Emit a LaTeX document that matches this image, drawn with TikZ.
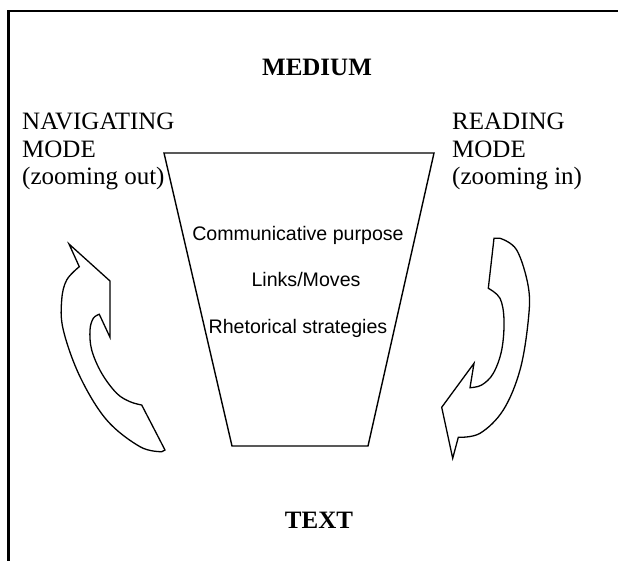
\documentclass[tikz,border=0pt]{standalone}
\usepackage{fontspec}
\setmainfont{Liberation Serif}
\setsansfont{Liberation Sans}
\begin{document}
\begin{tikzpicture}[x=1pt,y=-1pt,
  label/.style={inner sep=0pt,font=\fontsize{25}{27.5}\selectfont},
  headlabel/.style={label,font=\fontsize{25}{27.5}\selectfont\bfseries},
  layer/.style={inner sep=0pt,font=\sffamily\fontsize{19.6}{22}\selectfont},
  funnel/.style={draw=black,line width=1.4pt,line join=miter},
  turn/.style={draw=black,line width=1.3pt,line join=miter,fill=white},
  frame/.style={draw=black,line width=2.2pt}]
\useasboundingbox (0,0) rectangle (618,561);

% open frame: top and left edges
\coordinate (fc) at (8.5,11);
\draw[frame] (618,11) -- (fc) -- (8.5,561);

% headings
\node[headlabel,anchor=base] (medium) at (317,76) {MEDIUM};
\node[headlabel,anchor=base] (text) at (319,528) {TEXT};

% the two reading modes (base anchor sits on the last line)
\node[label,anchor=base west,align=left] (nav) at (22,185)
  {NAVIGATING\\MODE\\(zooming out)};
\node[label,anchor=base west,align=left] (read) at (452,185)
  {READING\\MODE\\(zooming in)};

% funnel
\coordinate (tl) at (164,153);
\coordinate (tr) at (434,153);
\coordinate (br) at (368,446);
\coordinate (bl) at (232,446);
\draw[funnel] (tl) -- (tr) -- (br) -- (bl) -- cycle;

\node[layer,anchor=base] (purpose) at (298,241) {Communicative purpose};
\node[layer,anchor=base] (moves) at (306,287) {Links/Moves};
\node[layer,anchor=base] (strat) at (298,333) {Rhetorical strategies};

% left curved arrow, pointing up
\draw[turn] (69,244) -- (79.3,266.7)
  -- plot[smooth,tension=0.6] coordinates {(79.3,266.7) (66.7,280) (61.7,300) (63.3,330) (80,376.7) (106.7,420) (140,446.7) (161.7,451.7)}
  -- (165,450) -- (141.7,405)
  -- plot[smooth,tension=0.6] coordinates {(141.7,405) (130,401.7) (116.7,393.3) (101.7,373.3) (91.7,350) (90,330) (93.3,318.3) (99.3,314.3)}
  -- (110,337.3) -- (110,281) -- cycle;

% right curved arrow, pointing down
\draw[turn] (494,238.3) -- (500,238.3)
  -- plot[smooth,tension=0.6] coordinates {(500,238.3) (516.7,250) (528.3,286.7) (528.3,320) (520,370) (503.3,410) (480,433.3) (458.3,437.3)}
  -- (452.7,458.3) -- (441.7,407.3) -- (474,363.3) -- (470,387.7)
  -- plot[smooth,tension=0.6] coordinates {(470,387.7) (481.7,385) (493.3,373.3) (501.7,350) (504,320) (500,298.3) (488.3,288.3)}
  -- cycle;
\end{tikzpicture}
\end{document}
